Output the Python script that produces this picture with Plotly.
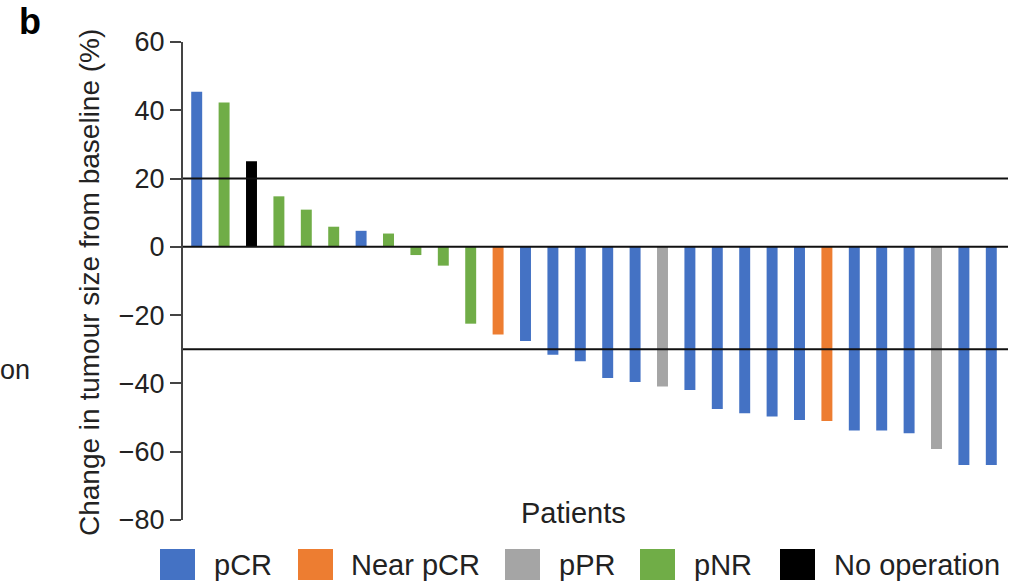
import plotly.graph_objects as go

# ---- data ----
patients = list(range(1, 31))
change_pct = [45.4, 42.3, 25.1, 14.8, 10.9, 5.9, 4.7, 3.9, -2.4, -5.5,
              -22.5, -25.7, -27.6, -31.6, -33.5, -38.4, -39.6, -40.9, -41.9, -47.5,
              -48.7, -49.7, -50.7, -51.0, -53.8, -53.8, -54.6, -59.2, -63.9, -63.9]
response = ["pCR", "pNR", "No operation", "pNR", "pNR", "pNR", "pCR", "pNR", "pNR", "pNR",
            "pNR", "Near pCR", "pCR", "pCR", "pCR", "pCR", "pCR", "pPR", "pCR", "pCR",
            "pCR", "pCR", "pCR", "Near pCR", "pCR", "pCR", "pCR", "pPR", "pCR", "pCR"]
legend_order = ["pCR", "Near pCR", "pPR", "pNR", "No operation"]
colors = {"pCR": "#4472C4", "Near pCR": "#ED7D31", "pPR": "#A5A5A5",
          "pNR": "#70AD47", "No operation": "#000000"}
ref_lines = [20, 0, -30]
y_ticks = [60, 40, 20, 0, -20, -40, -60, -80]

# ---- layout geometry (pixels) ----
W, H = 1012, 584
L, R, T, B = 183, 1005, 42, 520
FONT = "Liberation Sans, Arial, Helvetica, sans-serif"


def px(x):
    return (x - L) / (R - L)


def py(y):
    return (B - y) / (B - T)


fig = go.Figure()
fig.add_trace(go.Bar(
    x=patients, y=change_pct,
    marker=dict(color=[colors[r] for r in response], line=dict(width=0)),
    width=0.4, showlegend=False, hoverinfo="x+y",
))

shapes = []
for v in ref_lines:
    shapes.append(dict(type="line", xref="paper", yref="y", x0=0, x1=px(1008),
                       y0=v, y1=v, line=dict(color="#111111", width=2), layer="above"))

# manual legend
sw_x = [160, 298, 505, 640, 780]
tx_x = [212, 349, 557, 692, 832]
annotations = []
for name, sx, tx in zip(legend_order, sw_x, tx_x):
    shapes.append(dict(type="rect", xref="paper", yref="paper",
                       x0=px(sx), x1=px(sx + 35), y0=py(580), y1=py(549),
                       fillcolor=colors[name], line=dict(width=0)))
    annotations.append(dict(text=name, xref="paper", yref="paper", x=px(tx), y=py(565),
                            xanchor="left", yanchor="middle", showarrow=False,
                            font=dict(family=FONT, size=29, color="#222222")))

annotations += [
    dict(text="Patients", xref="paper", yref="paper", x=px(573), y=py(513),
         xanchor="center", yanchor="middle", showarrow=False,
         font=dict(family=FONT, size=29, color="#222222")),
    dict(text="Change in tumour size from baseline (%)", xref="paper", yref="paper",
         x=px(89), y=py(283), textangle=-90, xanchor="center", yanchor="middle",
         showarrow=False, font=dict(family=FONT, size=28, color="#222222")),
    dict(text="<b>b</b>", xref="paper", yref="paper", x=px(30), y=py(21),
         xanchor="center", yanchor="middle", showarrow=False,
         font=dict(family=FONT, size=36, color="#000000")),
    dict(text="on", xref="paper", yref="paper", x=px(-2), y=py(370),
         xanchor="left", yanchor="middle", showarrow=False,
         font=dict(family=FONT, size=27, color="#222222")),
]

fig.update_layout(
    width=W, height=H,
    margin=dict(l=L, r=W - R, t=T, b=H - B, pad=0),
    paper_bgcolor="white", plot_bgcolor="white",
    shapes=shapes, annotations=annotations,
    xaxis=dict(range=[0.5, 30.5], visible=False, fixedrange=True),
    yaxis=dict(range=[-80, 60], tickvals=y_ticks, showgrid=False, zeroline=False,
               showline=True, linecolor="#444444", linewidth=2,
               ticks="outside", ticklen=11, tickwidth=2, tickcolor="#444444",
               tickfont=dict(family=FONT, size=27, color="#222222")),
    bargap=0.6,
)

fig.write_html(
    "out.html",
    config={"displayModeBar": False},
    post_script="document.body.style.margin='0';document.body.style.overflow='hidden';",
)
